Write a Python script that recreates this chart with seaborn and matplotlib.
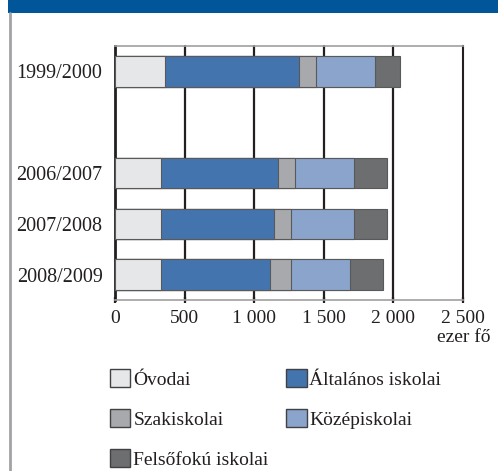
import numpy as np
import pandas as pd
import matplotlib
matplotlib.use("Agg")
import matplotlib.pyplot as plt
from matplotlib.patches import Rectangle, Patch
from matplotlib.lines import Line2D
import seaborn as sns

# ---- data (thousand persons) ----
years = ["1999/2000", "2006/2007", "2007/2008", "2008/2009"]
categories = ["Óvodai", "Általános iskolai", "Szakiskolai", "Középiskolai", "Felsőfokú iskolai"]
ovodai = [359, 328, 328, 328]
altalanos = [965, 841, 814, 785]
szakiskolai = [120, 124, 122, 151]
kozepiskolai = [421, 424, 453, 422]
felsofoku = [182, 239, 239, 242]
xticks = [0, 500, 1000, 1500, 2000, 2500]
xticklabels = ["0", "500", "1 000", "1 500", "2 000", "2 500"]
unit_label = "ezer fő"

colors = ["#e6e7e8", "#4474ad", "#a7a9ac", "#8aa4cc", "#6d6e70"]

sns.set_theme(style="white")
plt.rcParams["font.family"] = ["Liberation Serif", "DejaVu Serif"]
plt.rcParams["xtick.bottom"] = True

df = pd.DataFrame({"year": years, categories[0]: ovodai, categories[1]: altalanos,
                   categories[2]: szakiskolai, categories[3]: kozepiskolai,
                   categories[4]: felsofoku})
cum = df[categories].cumsum(axis=1)

order = [years[0], " ", years[1], years[2], years[3]]

fig = plt.figure(figsize=(4.98, 4.71), dpi=100)
ax = fig.add_axes([115/498, 1-300/471, 348/498, 254/471])

for i in reversed(range(len(categories))):
    sns.barplot(x=cum[categories[i]].values, y=df["year"].values, order=order,
                orient="h", color=colors[i], width=0.6, edgecolor="#58595b",
                linewidth=0.8, saturation=1, ax=ax, zorder=3)

ax.set_xlim(0, 2500)
ax.set_ylim(4.5, -0.5)
ax.set_xticks(xticks)
ax.set_xticklabels(xticklabels)
ax.set_xlabel("")
ax.set_ylabel("")
ax.grid(False)
# vertical reference lines drawn in figure coordinates derived from the axis transform
for xv in xticks[1:-1]:
    ax.add_line(Line2D([xv, xv], [0, 1], transform=ax.get_xaxis_transform(),
                       color="#231f20", linewidth=1.6, zorder=1.5, clip_on=False))
ax.tick_params(axis="x", bottom=True, length=4, width=1.6, color="#231f20", pad=5,
               labelsize=14, labelcolor="#231f20", direction="inout")
ax.tick_params(axis="y", left=False, length=0, pad=9, labelsize=14.5, labelcolor="#231f20")
for s in ["top", "bottom"]:
    ax.spines[s].set_color("#a0a0a0")
    ax.spines[s].set_linewidth(1.2)
ax.spines["left"].set_color("#231f20")
ax.spines["left"].set_linewidth(2)
ax.spines["right"].set_color("#231f20")
ax.spines["right"].set_linewidth(1.5)
ax.spines["right"].set_visible(True)
ax.spines["top"].set_visible(True)

fig.text(490/498, 1-338/471, unit_label, ha="right", va="center", fontsize=14, color="#231f20")

# decorations: top banner and left rule
fig.patches.append(Rectangle((8/498, 1-12.5/471), 1, 12.5/471, transform=fig.transFigure,
                             facecolor="#01569a", edgecolor="none"))
fig.add_artist(Line2D([9.5/498, 9.5/498], [0, 1-12.5/471], transform=fig.transFigure,
                      color="#a0a2a5", lw=2))

handles = [Patch(facecolor=colors[i], edgecolor="#414042", linewidth=1.0) for i in range(5)]
idx = [0, 2, 4, 1, 3]
leg = fig.legend([handles[i] for i in idx], [categories[i] for i in idx], ncol=2,
                 loc="upper left", bbox_to_anchor=(110/498, 1-369/471), frameon=False,
                 fontsize=14, handlelength=1.05, handleheight=1.05, handletextpad=0.15,
                 columnspacing=0.9, labelspacing=1.05, borderpad=0, borderaxespad=0)
for t in leg.get_texts():
    t.set_color("#231f20")

fig.savefig("out.png", dpi=100)
